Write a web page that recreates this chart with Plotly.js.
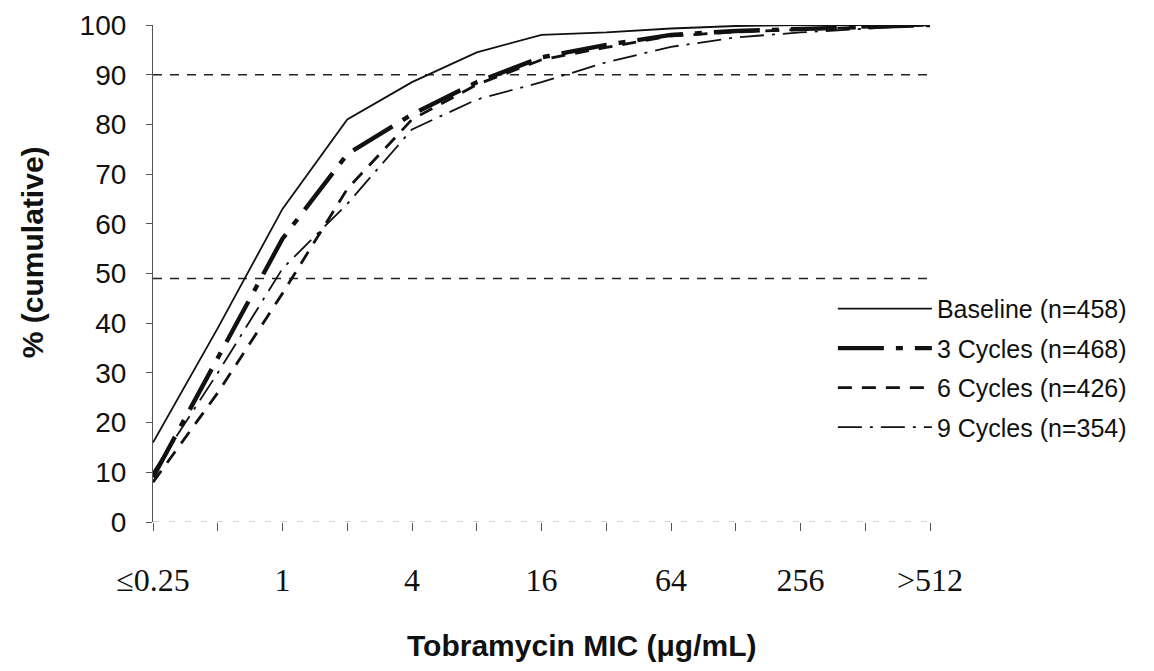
<!DOCTYPE html>
<html>
<head>
<meta charset="utf-8">
<script src="https://cdn.plot.ly/plotly-3.0.1.min.js"></script>
<style>
  html, body { margin: 0; padding: 0; background: #fff; }
  #chart { width: 1154px; height: 671px; }
</style>
</head>
<body>
<div id="chart"></div>
<script>
// MIC categories (µg/mL)
const categories = ["≤0.25", "0.5", "1", "2", "4", "8", "16", "32", "64", "128", "256", "512", ">512"];
const tickLabels = ["≤0.25", "", "1", "", "4", "", "16", "", "64", "", "256", "", ">512"];

// cumulative % per series
const baseline = [16, 39, 63, 81, 88.5, 94.5, 98, 98.5, 99.3, 99.8, 100, 100, 100];
const cycles3  = [9, 33, 57, 74, 82, 88.5, 93.5, 96, 98, 98.8, 99.2, 99.6, 100];
const cycles6  = [8, 26, 46, 67, 81, 88, 93, 95.5, 97.8, 98.6, 99.1, 99.5, 100];
const cycles9  = [10, 30, 51, 64, 79, 85, 88.5, 92.5, 95.6, 97.5, 98.5, 99.3, 100];

const seriesNames = ["Baseline (n=458)", "3 Cycles (n=468)", "6 Cycles (n=426)", "9 Cycles (n=354)"];

// reference levels (MIC50 / MIC90)
const refLevels = [90, 49];

const xTitle = "Tobramycin MIC (μg/mL)";
const yTitle = "% (cumulative)";

const xIdx = categories.map((c, i) => i);

function tr(y, name, width, dash, group) {
  return {
    x: xIdx, y: y, name: name, type: "scatter", mode: "lines",
    legendgroup: group,
    line: { color: "#111", width: width, dash: dash },
    hovertemplate: "%{text}: %{y}%<extra>" + name + "</extra>",
    text: categories
  };
}

const data = [
  tr(baseline, seriesNames[0], 1.8, "solid", "a"),
  tr(cycles3, seriesNames[1], 4.4, "46px,12px,7px,12px", "b"),
  tr(cycles6, seriesNames[2], 2.8, "14px,10px", "c"),
  tr(cycles9, seriesNames[3], 1.8, "24px,8px,3px,8px", "d")
];

const shapes = refLevels.map(v => ({
  type: "line", xref: "paper", yref: "y", x0: 0, x1: 1, y0: v, y1: v,
  line: { color: "#222", width: 1.5, dash: "9px,8px" }, layer: "below"
}));
// faint x-axis baseline
shapes.push({
  type: "line", xref: "paper", yref: "y", x0: 0, x1: 1, y0: 0, y1: 0,
  line: { color: "#aaa", width: 1, dash: "6px,10px" }, layer: "below"
});

const titleFont = { family: "Arial, 'Liberation Sans', sans-serif", size: 30, color: "#111", weight: "bold" };

const layout = {
  width: 1154, height: 671,
  margin: { l: 153, r: 224, t: 25, b: 149 },
  paper_bgcolor: "#fff", plot_bgcolor: "#fff",
  showlegend: true,
  legend: {
    x: 0.875, y: 0.475, xanchor: "left", yanchor: "top",
    itemwidth: 94,
    font: { family: "Arial, 'Liberation Sans', sans-serif", size: 25, color: "#111" },
    tracegroupgap: 4, bgcolor: "rgba(0,0,0,0)"
  },
  xaxis: {
    range: [0, 12],
    tickmode: "array", tickvals: xIdx, ticktext: tickLabels,
    ticks: "outside", ticklen: 8, tickcolor: "#555", tickwidth: 1,
    ticklabelstandoff: 22,
    showline: false, showgrid: false, zeroline: false,
    tickfont: { family: "'Liberation Serif', 'Times New Roman', serif", size: 32, color: "#111" }
  },
  yaxis: {
    range: [0, 100],
    tickmode: "linear", tick0: 0, dtick: 10,
    ticks: "outside", ticklen: 6, tickcolor: "#555", tickwidth: 1,
    ticklabelstandoff: 14,
    showline: true, linecolor: "#555", linewidth: 1.2,
    showgrid: false, zeroline: false,
    tickfont: { family: "Arial, 'Liberation Sans', sans-serif", size: 28, color: "#111" }
  },
  annotations: [
    { text: "<b>" + xTitle + "</b>", xref: "paper", yref: "paper", x: 0.551, y: -0.2475,
      xanchor: "center", yanchor: "middle", showarrow: false, font: titleFont },
    { text: "<b>" + yTitle + "</b>", xref: "paper", yref: "paper", x: -0.1557, y: 0.543,
      xanchor: "center", yanchor: "middle", textangle: -90, showarrow: false, font: titleFont }
  ],
  shapes: shapes
};

Plotly.newPlot("chart", data, layout, { displayModeBar: false, responsive: false });
</script>
</body>
</html>
